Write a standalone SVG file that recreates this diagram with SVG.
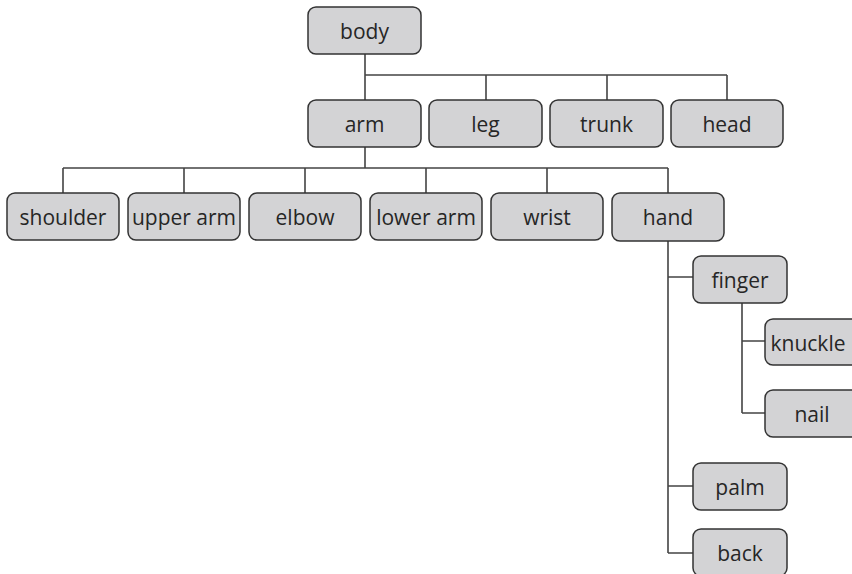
<svg xmlns="http://www.w3.org/2000/svg" width="852" height="574" viewBox="0 0 852 574">
  <style>
    .box { fill: #d3d3d5; stroke: #333333; stroke-width: 1.5; }
    .lbl { font-family: "Open Sans", "Liberation Sans", sans-serif; font-size: 21px; fill: #262626; text-anchor: middle; }
    .wire { fill: none; stroke: #444444; stroke-width: 1.6; }
  </style>
  <rect width="852" height="574" fill="#ffffff"/>

  <!-- connectors -->
  <g id="connectors" class="wire">
    <path d="M365 54 V75 M365 75 H727 M365 75 V100 M486 75 V100 M607 75 V100 M727 75 V100"/>
    <path d="M365 147 V168 M63 168 H668 M63 168 V193 M184 168 V193 M305 168 V193 M426 168 V193 M547 168 V193 M668 168 V193"/>
    <path d="M668 241 V553 M668 277 H693 M668 486 H693 M668 553 H693"/>
    <path d="M742 303 V413 M742 341 H765 M742 413 H765"/>
  </g>

  <!-- level 0 -->
  <g id="body"><rect class="box" x="308" y="7" width="113" height="47" rx="8"/><text class="lbl" x="364.5" y="39">body</text></g>

  <!-- level 1 -->
  <g id="arm"><rect class="box" x="308" y="100" width="113" height="47" rx="8"/><text class="lbl" x="364.5" y="132">arm</text></g>
  <g id="leg"><rect class="box" x="429" y="100" width="113" height="47" rx="8"/><text class="lbl" x="485.5" y="132">leg</text></g>
  <g id="trunk"><rect class="box" x="550" y="100" width="113" height="47" rx="8"/><text class="lbl" x="606.5" y="132">trunk</text></g>
  <g id="head"><rect class="box" x="671" y="100" width="112" height="47" rx="8"/><text class="lbl" x="727" y="132">head</text></g>

  <!-- level 2 -->
  <g id="shoulder"><rect class="box" x="7" y="193" width="112" height="47" rx="8"/><text class="lbl" x="63" y="225">shoulder</text></g>
  <g id="upper-arm"><rect class="box" x="128" y="193" width="112" height="47" rx="8"/><text class="lbl" x="184" y="225">upper arm</text></g>
  <g id="elbow"><rect class="box" x="249" y="193" width="112" height="47" rx="8"/><text class="lbl" x="305" y="225">elbow</text></g>
  <g id="lower-arm"><rect class="box" x="370" y="193" width="112" height="47" rx="8"/><text class="lbl" x="426" y="225">lower arm</text></g>
  <g id="wrist"><rect class="box" x="491" y="193" width="112" height="47" rx="8"/><text class="lbl" x="547" y="225">wrist</text></g>
  <g id="hand"><rect class="box" x="612" y="193" width="112" height="48" rx="8"/><text class="lbl" x="668" y="225">hand</text></g>

  <!-- parts of the hand -->
  <g id="finger"><rect class="box" x="693" y="256" width="94" height="47" rx="8"/><text class="lbl" x="740" y="288">finger</text></g>
  <g id="knuckle"><rect class="box" x="765" y="319" width="94" height="46" rx="8"/><text class="lbl" x="808" y="351">knuckle</text></g>
  <g id="nail"><rect class="box" x="765" y="390" width="94" height="47" rx="8"/><text class="lbl" x="812" y="422">nail</text></g>
  <g id="palm"><rect class="box" x="693" y="463" width="94" height="47" rx="8"/><text class="lbl" x="740" y="495">palm</text></g>
  <g id="back"><rect class="box" x="693" y="529" width="94" height="47" rx="8"/><text class="lbl" x="740" y="561">back</text></g>
</svg>
